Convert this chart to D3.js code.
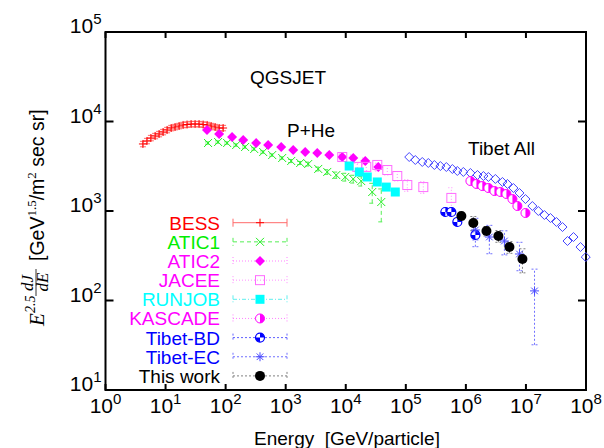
<!DOCTYPE html>
<html>
<head>
<meta charset="utf-8">
<script src="https://cdn.jsdelivr.net/npm/d3@7"></script>
<style>
  body { margin: 0; background: #fff; }
  text { font-family: "Liberation Sans", Arial, sans-serif; }
</style>
</head>
<body>
<div id="chart"></div>
<script>

// ---- data ----
var bessE = [4.2, 4.9, 5.7, 6.7, 7.8, 9.1, 10.6, 12.4, 14.4, 16.8, 19.6, 22.8, 26.6, 31, 36.1, 42.2, 49.2, 57.3, 66.8, 78, 90.8];
var bessF = [5610, 6060, 6540, 6890, 7250, 7630, 8040, 8460, 8680, 8910, 9150, 9250, 9370, 9370, 9370, 9250, 9150, 8910, 8680, 8460, 8460];
var bessErr = [0.07, 0.07, 0.07, 0.07, 0.07, 0.07, 0.07, 0.07, 0.07, 0.07, 0.07, 0.07, 0.07, 0.07, 0.07, 0.07, 0.07, 0.07, 0.07, 0.07, 0.07];

var atic1E = [51, 75, 106, 150, 211, 299, 422, 596, 874, 1235, 1745, 2370, 3480, 4920, 6950, 9810, 13300, 18100, 27600, 39000];
var atic1F = [5750, 5900, 5750, 5460, 5190, 4930, 4560, 4220, 3910, 3620, 3440, 3350, 2950, 2730, 2520, 2400, 2280, 2160, 1630, 1260];
var atic1Err = [0.03, 0.03, 0.03, 0.03, 0.03, 0.03, 0.03, 0.03, 0.03, 0.04, 0.04, 0.05, 0.05, 0.06, 0.08, 0.1, 0.1, 0.12, 0.25, 0.4];

var atic2E = [49, 78, 128, 196, 322, 510, 841, 1334, 2113, 3350, 5310, 8750, 13330, 21130, 34800];
var atic2F = [8040, 7250, 6710, 6210, 5750, 5460, 5190, 4800, 4560, 4450, 4220, 4010, 3910, 3620, 3110];
var atic2Err = [0.02, 0.02, 0.02, 0.02, 0.02, 0.02, 0.03, 0.03, 0.03, 0.04, 0.05, 0.06, 0.08, 0.08, 0.1];

var jaceeE = [8750, 15550, 21960, 33500, 49200, 72100, 105900, 195700, 573000];
var jaceeF = [4010, 3110, 3110, 3270, 2870, 2460, 1950, 1850, 1400];
var jaceeErr = [0.1, 0.1, 0.1, 0.12, 0.12, 0.12, 0.15, 0.15, 0.3];

var runjobE = [11400, 16800, 22800, 33500, 47300, 66800];
var runjobF = [3180, 2730, 2400, 2110, 1850, 1630];
var runjobErr = [0.05, 0.05, 0.05, 0.06, 0.07, 0.08];

var kascadeE = [1.19e6, 1.50e6, 1.88e6, 2.37e6, 2.99e6, 3.76e6, 4.73e6, 5.96e6, 7.21e6, 9.82e6];
var kascadeF = [2163, 2005, 1901, 1807, 1672, 1630, 1549, 1360, 1137, 950];
var kascadeErr = [0.04, 0.04, 0.04, 0.04, 0.04, 0.05, 0.05, 0.05, 0.06, 0.06];

var tibetAllE = [1.14e5, 1.44e5, 1.88e5, 2.37e5, 2.99e5, 3.76e5, 4.73e5, 5.96e5, 7.21e5, 9.08e5,
                 1.19e6, 1.56e6, 1.96e6, 2.37e6, 3.10e6, 4.06e6, 4.92e6, 6.19e6, 7.80e6, 9.82e6,
                 1.28e7, 1.61e7, 2.03e7, 2.56e7, 3.22e7, 4.06e7, 4.92e7, 6.19e7, 8.09e7, 9.9e7];
var tibetAllF = [4010, 3715, 3530, 3440, 3265, 3180, 3100, 2945, 2800, 2730,
                 2660, 2525, 2460, 2400, 2280, 2110, 2005, 1807, 1590, 1360,
                 1137, 1000, 902, 835, 754, 662, 462, 512, 396, 306];

var bdE = [4.55e5, 5.73e5, 7.21e5, 1.44e6];
var bdF = [975, 975, 754, 540];
var bdErr = [0.06, 0.06, 0.08, 0.12];

var ecE = [1.44e6, 2.46e6, 4.38e6, 7.80e6, 1.39e7];
var ecF = [614, 512, 462, 331, 128];
var ecErr = [0.35, 0.35, 0.3, 0.35, 0.75];

var thisE = [8.41e5, 1.33e6, 2.20e6, 3.48e6, 5.31e6, 8.75e6];
var thisF = [879, 735, 598, 526, 396, 291];
var thisErr = [0.1, 0.18, 0.12, 0.15, 0.15, 0.3];

var xTickPowers = [0, 1, 2, 3, 4, 5, 6, 7, 8];
var yTickPowers = [1, 2, 3, 4, 5];

// ---- layout ----
var svgWidth = 604;
var svgHeight = 448;
var margin = { top: 32, right: 18, bottom: 58, left: 105.5 };
var width = svgWidth - margin.left - margin.right;
var height = svgHeight - margin.top - margin.bottom;

var svg = d3.select("#chart")
  .append("svg")
  .attr("width", svgWidth)
  .attr("height", svgHeight);

var chartGroup = svg.append("g")
  .attr("transform", `translate(${margin.left}, ${margin.top})`);

var xScale = d3.scaleLog().domain([1, 1e8]).range([0, width]);
var yScale = d3.scaleLog().domain([10, 1e5]).range([height, 0]);

// series table built from the arrays above
var series = [
  { name: "BESS", E: bessE, F: bessF, err: bessErr, color: "#ff0000", mark: "#ff0000", light: "#ff6a6a", dash: null, marker: "plus" },
  { name: "ATIC1", E: atic1E, F: atic1F, err: atic1Err, color: "#00ee00", mark: "#22ee22", light: "#55ee55", dash: "4,3", marker: "cross" },
  { name: "ATIC2", E: atic2E, F: atic2F, err: atic2Err, color: "#ff00ff", mark: "#ff00ff", light: "#ff80ff", dash: "1,2", marker: "diamondFill" },
  { name: "JACEE", E: jaceeE, F: jaceeF, err: jaceeErr, color: "#ff00ff", mark: "#ff6cff", light: "#ff90ff", dash: "1,2", marker: "squareOpen" },
  { name: "RUNJOB", E: runjobE, F: runjobF, err: runjobErr, color: "#00ffff", mark: "#00ffff", light: "#60eeee", dash: "4,2,1,2", marker: "squareFill" },
  { name: "KASCADE", E: kascadeE, F: kascadeF, err: kascadeErr, color: "#ff00ff", mark: "#ff00ff", light: "#ff80ff", dash: "1,2", marker: "halfCircle" },
  { name: "Tibet-BD", E: bdE, F: bdF, err: bdErr, color: "#0000ff", mark: "#0000ff", light: "#6060ff", dash: "2,2", marker: "quadCircle" },
  { name: "Tibet-EC", E: ecE, F: ecF, err: ecErr, color: "#0000ff", mark: "#4a4aff", light: "#7070ff", dash: "2,2", marker: "star" },
  { name: "This work", E: thisE, F: thisF, err: thisErr, color: "#000000", mark: "#000000", light: "#808080", dash: "2,2", marker: "dot" }
];

// draw one point marker centred at (x, y)
function drawMarker(g, type, color, x, y) {
  var m = g.append("g").attr("transform", `translate(${x},${y})`);
  if (type === "plus") {
    m.append("path").attr("d", "M-4,0H4M0,-4V4").attr("stroke", color).attr("stroke-width", 1);
  } else if (type === "cross") {
    m.append("path").attr("d", "M-4,-4L4,4M-4,4L4,-4").attr("stroke", color).attr("stroke-width", 1);
  } else if (type === "diamondFill") {
    m.append("path").attr("d", "M0,-5L5,0L0,5L-5,0Z").attr("fill", color);
  } else if (type === "diamondOpen") {
    m.append("path").attr("d", "M0,-4.5L4.5,0L0,4.5L-4.5,0Z").attr("fill", "none").attr("stroke", color).attr("stroke-width", 1);
  } else if (type === "squareOpen") {
    m.append("rect").attr("x", -4.5).attr("y", -4.5).attr("width", 9).attr("height", 9)
      .attr("fill", "none").attr("stroke", color).attr("stroke-width", 1);
  } else if (type === "squareFill") {
    m.append("rect").attr("x", -4.5).attr("y", -4.5).attr("width", 9).attr("height", 9).attr("fill", color);
  } else if (type === "halfCircle") {
    m.append("circle").attr("r", 4.5).attr("fill", "#fff").attr("stroke", color).attr("stroke-width", 1);
    m.append("path").attr("d", "M0,-4.5A4.5,4.5 0 0 1 0,4.5Z").attr("fill", color);
  } else if (type === "quadCircle") {
    m.append("circle").attr("r", 4.5).attr("fill", "#fff").attr("stroke", color).attr("stroke-width", 1.2);
    m.append("path").attr("d", "M0,0L0,-4.5A4.5,4.5 0 0 1 4.5,0Z M0,0L0,4.5A4.5,4.5 0 0 1 -4.5,0Z").attr("fill", color);
  } else if (type === "star") {
    m.append("path").attr("d", "M-4.5,0H4.5M0,-4.5V4.5M-3.3,-3.3L3.3,3.3M-3.3,3.3L3.3,-3.3")
      .attr("stroke", color).attr("stroke-width", 1);
  } else if (type === "dot") {
    m.append("circle").attr("r", 5).attr("fill", color);
  }
}

// ---- frame with mirrored ticks ----
chartGroup.append("rect")
  .attr("width", width).attr("height", height)
  .attr("fill", "none").attr("stroke", "#000").attr("stroke-width", 2);

xTickPowers.forEach(function(p) {
  var x = xScale(Math.pow(10, p));
  chartGroup.append("path").attr("d", `M${x},${height}v-6M${x},0v6`).attr("stroke", "#000").attr("stroke-width", 2);
  var t = chartGroup.append("text")
    .attr("x", x).attr("y", height + 23)
    .attr("text-anchor", "middle")
    .attr("font-size", 21);
  t.append("tspan").text("10");
  t.append("tspan").attr("dy", -9).attr("font-size", 15).text(p);
});

yTickPowers.forEach(function(p) {
  var y = yScale(Math.pow(10, p));
  chartGroup.append("path").attr("d", `M0,${y}h8M${width},${y}h-8`).attr("stroke", "#000").attr("stroke-width", 2);
  var t = chartGroup.append("text")
    .attr("x", -4).attr("y", y + 1)
    .attr("text-anchor", "end")
    .attr("font-size", 21);
  t.append("tspan").text("10");
  t.append("tspan").attr("dy", -9).attr("font-size", 15).text(p);
});

// ---- data: error bars first, then markers ----
var dataGroup = chartGroup.append("g");

series.forEach(function(s) {
  s.E.forEach(function(e, i) {
    var x = xScale(e);
    var y0 = yScale(s.F[i] * (1 - s.err[i]));
    var y1 = yScale(s.F[i] * (1 + s.err[i]));
    dataGroup.append("path")
      .attr("d", `M${x},${y0}V${y1}M${x - 3},${y0}h6M${x - 3},${y1}h6`)
      .attr("fill", "none")
      .attr("stroke", s.light)
      .attr("stroke-width", 1)
      .attr("stroke-dasharray", s.dash);
  });
});

tibetAllE.forEach(function(e, i) {
  drawMarker(dataGroup, "diamondOpen", "#4646ff", xScale(e), yScale(tibetAllF[i]));
});

series.forEach(function(s) {
  s.E.forEach(function(e, i) {
    drawMarker(dataGroup, s.marker, s.mark, xScale(e), yScale(s.F[i]));
  });
});

// ---- legend ----
var legend = svg.append("g");
series.forEach(function(s, i) {
  var y = 222.7 + i * 19.15;
  legend.append("text")
    .attr("x", 220).attr("y", y + 7)
    .attr("text-anchor", "end")
    .attr("font-size", 19)
    .attr("fill", s.color)
    .text(s.name);
  legend.append("path")
    .attr("d", `M233,${y}H287M233,${y - 4}v8M287,${y - 4}v8`)
    .attr("fill", "none")
    .attr("stroke", s.light)
    .attr("stroke-width", 1)
    .attr("stroke-dasharray", s.dash);
  drawMarker(legend, s.marker, s.mark, 260, y);
});

// ---- annotations ----
svg.append("text").attr("x", 288).attr("y", 84).attr("text-anchor", "middle")
  .attr("font-size", 19).text("QGSJET");
svg.append("text").attr("x", 287).attr("y", 137)
  .attr("font-size", 19).text("P+He");
svg.append("text").attr("x", 468).attr("y", 155)
  .attr("font-size", 19).text("Tibet All");

// x axis label
svg.append("text")
  .attr("x", 347).attr("y", 445)
  .attr("text-anchor", "middle")
  .attr("font-size", 19)
  .attr("xml:space", "preserve")
  .style("white-space", "pre")
  .text("Energy  [GeV/particle]");

// y axis label (rotated): E^2.5 dJ/dE [GeV^1.5/m^2 sec sr]
var yLab = svg.append("g").attr("transform", "translate(44,216) rotate(-90)");
var serif = "'Liberation Serif', 'Times New Roman', serif";
yLab.append("text").attr("x", -110).attr("y", 0)
  .style("font-family", serif).style("font-style", "italic")
  .attr("font-size", 21).text("E");
yLab.append("text").attr("x", -97).attr("y", -9)
  .style("font-family", serif).style("font-style", "italic")
  .attr("font-size", 14).text("2.5");
yLab.append("text").attr("x", -67).attr("y", -11).attr("text-anchor", "middle")
  .style("font-family", serif).style("font-style", "italic")
  .attr("font-size", 17).text("dJ");
yLab.append("path").attr("d", "M-80,-8H-53").attr("stroke", "#000").attr("stroke-width", 0.8);
yLab.append("text").attr("x", -66).attr("y", 4).attr("text-anchor", "middle")
  .style("font-family", serif).style("font-style", "italic")
  .attr("font-size", 17).text("dE");
var unit = yLab.append("text").attr("x", -45).attr("y", 0).attr("font-size", 19.5);
unit.append("tspan").text("[GeV");
unit.append("tspan").attr("dy", -8).attr("font-size", 13)
  .style("font-family", serif).text("1.5");
unit.append("tspan").attr("dy", 8).text("/m");
unit.append("tspan").attr("dy", -8).attr("font-size", 13)
  .style("font-family", serif).text("2");
unit.append("tspan").attr("dy", 8).text(" sec sr]");

</script>
</body>
</html>
